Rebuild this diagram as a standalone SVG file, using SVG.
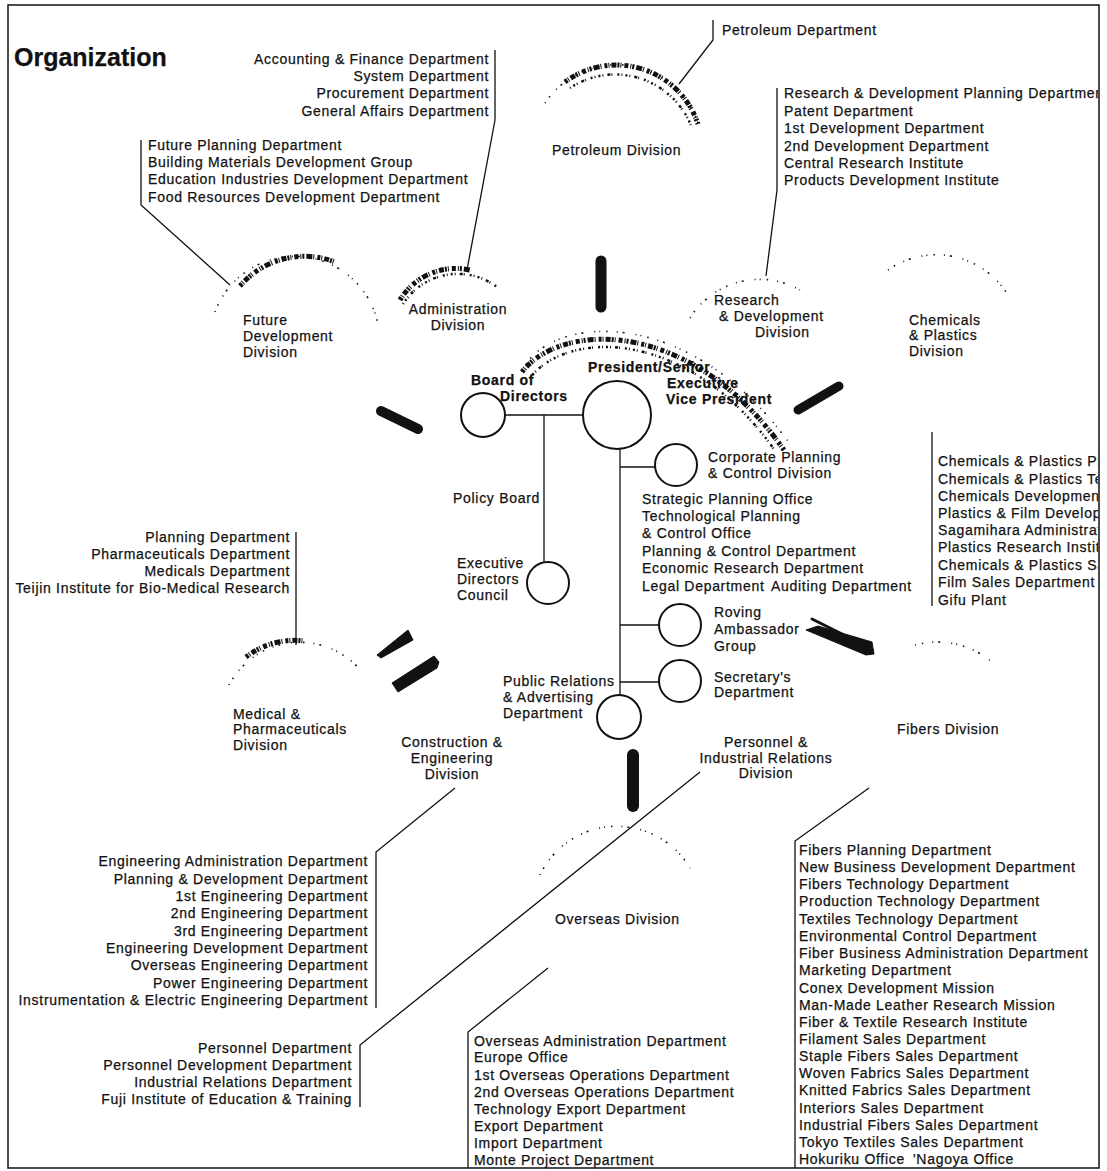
<svg xmlns="http://www.w3.org/2000/svg" width="1107" height="1171" viewBox="0 0 1107 1171">
<defs>
<style>
.t{font-family:"Liberation Sans",Arial,sans-serif;font-size:14px;letter-spacing:0.7px;fill:#111;stroke:#111;stroke-width:0.25}
.b{font-weight:bold}
.e{text-anchor:end}
.m{text-anchor:middle}
.ln{fill:none;stroke:#111;stroke-width:1.3}
.c{fill:none;stroke:#111;stroke-width:2}
.bar{fill:none;stroke:#111;stroke-linecap:round}
.blk{fill:#111;stroke:#111;stroke-width:1;stroke-linejoin:round}
.sd{fill:none;stroke:#111;stroke-width:5;stroke-dasharray:3 1 1 2 5 1 2 1 1 3 4 2 1 1 2 2 6 1 1 3}
.sm{fill:none;stroke:#111;stroke-width:2.5;stroke-dasharray:1 3 2 2 1 4 3 1 1 5 2 2}
.ss{fill:none;stroke:#111;stroke-width:1.6;stroke-dasharray:1 6 1.5 9 1 5 2 11 1 4}
</style>
<clipPath id="frameclip"><rect x="8" y="0" width="1090" height="1171"/></clipPath>
</defs>
<rect width="1107" height="1171" fill="#fff"/>
<rect x="8" y="5" width="1091" height="1163" fill="none" stroke="#111" stroke-width="1.5"/>

<g id="title"><text class="t b" x="14" y="66" style="font-size:25px;letter-spacing:0">Organization</text></g>

<g id="connectors">
<path class="ln" d="M495,50 V120 L467,270"/>
<path class="ln" d="M141,140 V205 L230,285"/>
<path class="ln" d="M713,20 V40 L679,84"/>
<path class="ln" d="M777,88 V190 L766,276"/>
<path class="ln" d="M932,432 V606"/>
<path class="ln" d="M296,532 V645"/>
<path class="ln" d="M505,415 H583"/>
<path class="ln" d="M544,415 V562"/>
<path class="ln" d="M620,449 V695"/>
<path class="ln" d="M620,467 H655"/>
<path class="ln" d="M620,625 H659"/>
<path class="ln" d="M620,682 H659"/>
<path class="ln" d="M455,788 L376,852 V1008"/>
<path class="ln" d="M700,772 L360,1045 V1107"/>
<path class="ln" d="M548,968 L468,1032 V1168"/>
<path class="ln" d="M869,788 L795,841 V1168"/>
</g>

<g id="breaks">
<line class="bar" x1="601" y1="261" x2="601" y2="307" stroke-width="11"/>
<line class="bar" x1="381" y1="411" x2="418" y2="429" stroke-width="10"/>
<line class="bar" x1="798" y1="410" x2="839" y2="386" stroke-width="9"/>
<polygon class="blk" points="377,655 408,630 413,640 381,658"/>
<polygon class="blk" points="392,683 434,656 439,662 437,668 398,692"/>
<line class="bar" x1="812" y1="619" x2="842" y2="634" stroke-width="3"/>
<polygon class="blk" points="806,630 818,626 872,642 874,654 866,655"/>
<line class="bar" x1="633" y1="755" x2="633" y2="806" stroke-width="12"/>
</g>

<g id="administration">
<path class="sd" d="M400,300 A65,65 0 0 1 470,270"/>
<path class="sm" d="M403,304 A65,65 0 0 1 497,287"/>
<text class="t m"><tspan x="458" y="314">Administration</tspan><tspan x="458" y="330">Division</tspan></text>
<text class="t e"><tspan x="489" y="64">Accounting &amp; Finance Department</tspan><tspan x="489" y="81">System Department</tspan><tspan x="489" y="98">Procurement Department</tspan><tspan x="489" y="116">General Affairs Department</tspan></text>
</g>

<g id="future-development">
<path class="ss" d="M215,312 A85,85 0 0 1 378,324"/>
<path class="sd" d="M240,286 A85,85 0 0 1 335,262"/>
<text class="t"><tspan x="243" y="325">Future</tspan><tspan x="243" y="341">Development</tspan><tspan x="243" y="357">Division</tspan></text>
<text class="t"><tspan x="148" y="150">Future Planning Department</tspan><tspan x="148" y="167">Building Materials Development Group</tspan><tspan x="148" y="184">Education Industries Development Department</tspan><tspan x="148" y="202">Food Resources Development Department</tspan></text>
</g>

<g id="petroleum">
<path class="ss" d="M545,103 A86,86 0 0 1 700,130"/>
<path class="sd" d="M565,82 A86,86 0 0 1 698,124"/>
<path class="sm" d="M570,88 A82,82 0 0 1 692,128"/>
<text class="t" x="552" y="155">Petroleum Division</text>
<text class="t" x="722" y="35">Petroleum Department</text>
</g>

<g id="research-development">
<path class="ss" d="M690,318 A82,82 0 0 1 800,290"/>
<text class="t"><tspan x="714" y="305">Research</tspan><tspan x="719" y="321">&amp; Development</tspan><tspan x="755" y="337">Division</tspan></text>
<text class="t" clip-path="url(#frameclip)"><tspan x="784" y="98">Research &amp; Development Planning Departmen</tspan><tspan x="784" y="116">Patent Department</tspan><tspan x="784" y="133">1st Development Department</tspan><tspan x="784" y="151">2nd Development Department</tspan><tspan x="784" y="168">Central Research Institute</tspan><tspan x="784" y="185">Products Development Institute</tspan></text>
</g>

<g id="chemicals-plastics">
<path class="ss" d="M888,270 A84,84 0 0 1 1006,292"/>
<text class="t"><tspan x="909" y="325">Chemicals</tspan><tspan x="909" y="340">&amp; Plastics</tspan><tspan x="909" y="356">Division</tspan></text>
<text class="t" clip-path="url(#frameclip)"><tspan x="938" y="466">Chemicals &amp; Plastics Pl</tspan><tspan x="938" y="484">Chemicals &amp; Plastics Te</tspan><tspan x="938" y="501">Chemicals Development</tspan><tspan x="938" y="518">Plastics &amp; Film Develop</tspan><tspan x="938" y="535">Sagamihara Administrat</tspan><tspan x="938" y="552">Plastics Research Institu</tspan><tspan x="938" y="570">Chemicals &amp; Plastics Sa</tspan><tspan x="938" y="587">Film Sales Department</tspan><tspan x="938" y="605">Gifu Plant</tspan></text>
</g>

<g id="president">
<path class="sd" d="M522,372 C560,322 690,316 784,450"/>
<path class="sm" d="M530,378 C566,330 688,326 776,452"/>
<path class="ss" d="M526,364 C560,314 692,308 790,444"/>
<circle class="c" cx="617" cy="415" r="34"/>
<text class="t b"><tspan x="588" y="372">President/Senior</tspan><tspan x="667" y="388">Executive</tspan><tspan x="666" y="404">Vice President</tspan></text>
</g>

<g id="board">
<circle class="c" cx="483" cy="415" r="22"/>
<text class="t b"><tspan x="471" y="385">Board of</tspan><tspan x="500" y="401">Directors</tspan></text>
<text class="t" x="453" y="503">Policy Board</text>
</g>

<g id="executive-council">
<circle class="c" cx="548" cy="583" r="21"/>
<text class="t"><tspan x="457" y="568">Executive</tspan><tspan x="457" y="584">Directors</tspan><tspan x="457" y="600">Council</tspan></text>
</g>

<g id="corporate-planning">
<circle class="c" cx="676" cy="465" r="21"/>
<text class="t"><tspan x="708" y="462">Corporate Planning</tspan><tspan x="708" y="478">&amp; Control Division</tspan></text>
<text class="t"><tspan x="642" y="504">Strategic Planning Office</tspan><tspan x="642" y="521">Technological Planning</tspan><tspan x="642" y="538">&amp; Control Office</tspan><tspan x="642" y="556">Planning &amp; Control Department</tspan><tspan x="642" y="573">Economic Research Department</tspan><tspan x="642" y="591">Legal Department</tspan><tspan x="771" y="591">Auditing Department</tspan></text>
</g>

<g id="roving">
<circle class="c" cx="680" cy="625" r="21"/>
<text class="t"><tspan x="714" y="617">Roving</tspan><tspan x="714" y="634">Ambassador</tspan><tspan x="714" y="651">Group</tspan></text>
</g>

<g id="secretary">
<circle class="c" cx="680" cy="681" r="21"/>
<text class="t"><tspan x="714" y="682">Secretary's</tspan><tspan x="714" y="697">Department</tspan></text>
</g>

<g id="public-relations">
<circle class="c" cx="619" cy="717" r="22"/>
<text class="t"><tspan x="503" y="686">Public Relations</tspan><tspan x="503" y="702">&amp; Advertising</tspan><tspan x="503" y="718">Department</tspan></text>
</g>

<g id="medical">
<path class="ss" d="M229,685 A80,80 0 0 1 362,672"/>
<path class="sd" d="M246,657 A80,80 0 0 1 305,641"/>
<text class="t"><tspan x="233" y="719">Medical &amp;</tspan><tspan x="233" y="734">Pharmaceuticals</tspan><tspan x="233" y="750">Division</tspan></text>
<text class="t e"><tspan x="290" y="542">Planning Department</tspan><tspan x="290" y="559">Pharmaceuticals Department</tspan><tspan x="290" y="576">Medicals Department</tspan><tspan x="290" y="593">Teijin Institute for Bio-Medical Research</tspan></text>
</g>

<g id="construction">
<text class="t m"><tspan x="452" y="747">Construction &amp;</tspan><tspan x="452" y="763">Engineering</tspan><tspan x="452" y="779">Division</tspan></text>
<text class="t e"><tspan x="368" y="866">Engineering Administration Department</tspan><tspan x="368" y="884">Planning &amp; Development Department</tspan><tspan x="368" y="901">1st Engineering Department</tspan><tspan x="368" y="918">2nd Engineering Department</tspan><tspan x="368" y="936">3rd Engineering Department</tspan><tspan x="368" y="953">Engineering Development Department</tspan><tspan x="368" y="970">Overseas Engineering Department</tspan><tspan x="368" y="988">Power Engineering Department</tspan><tspan x="368" y="1005">Instrumentation  &amp; Electric Engineering Department</tspan></text>
</g>

<g id="personnel">
<text class="t m"><tspan x="766" y="747">Personnel &amp;</tspan><tspan x="766" y="763">Industrial Relations</tspan><tspan x="766" y="778">Division</tspan></text>
<text class="t e"><tspan x="352" y="1053">Personnel Department</tspan><tspan x="352" y="1070">Personnel Development Department</tspan><tspan x="352" y="1087">Industrial Relations Department</tspan><tspan x="352" y="1104">Fuji Institute of Education &amp; Training</tspan></text>
</g>

<g id="overseas">
<path class="ss" d="M540,875 A85,85 0 0 1 690,868"/>
<text class="t" x="555" y="924">Overseas Division</text>
<text class="t"><tspan x="474" y="1046">Overseas Administration Department</tspan><tspan x="474" y="1062">Europe Office</tspan><tspan x="474" y="1080">1st Overseas Operations Department</tspan><tspan x="474" y="1097">2nd Overseas Operations Department</tspan><tspan x="474" y="1114">Technology Export Department</tspan><tspan x="474" y="1131">Export Department</tspan><tspan x="474" y="1148">Import Department</tspan><tspan x="474" y="1165">Monte Project Department</tspan></text>
</g>

<g id="fibers">
<path class="ss" d="M915,645 A85,85 0 0 1 992,662"/>
<text class="t" x="897" y="734">Fibers Division</text>
<text class="t"><tspan x="799" y="855">Fibers Planning Department</tspan><tspan x="799" y="872">New Business Development Department</tspan><tspan x="799" y="889">Fibers Technology Department</tspan><tspan x="799" y="906">Production Technology Department</tspan><tspan x="799" y="924">Textiles Technology Department</tspan><tspan x="799" y="941">Environmental Control Department</tspan><tspan x="799" y="958">Fiber Business Administration Department</tspan><tspan x="799" y="975">Marketing Department</tspan><tspan x="799" y="993">Conex Development Mission</tspan><tspan x="799" y="1010">Man-Made Leather Research Mission</tspan><tspan x="799" y="1027">Fiber &amp; Textile Research Institute</tspan><tspan x="799" y="1044">Filament Sales Department</tspan><tspan x="799" y="1061">Staple Fibers Sales Department</tspan><tspan x="799" y="1078">Woven Fabrics Sales Department</tspan><tspan x="799" y="1095">Knitted Fabrics Sales Department</tspan><tspan x="799" y="1113">Interiors Sales Department</tspan><tspan x="799" y="1130">Industrial Fibers Sales Department</tspan><tspan x="799" y="1147">Tokyo Textiles Sales Department</tspan><tspan x="799" y="1164">Hokuriku Office</tspan><tspan x="913" y="1164">'Nagoya Office</tspan></text>
</g>
</svg>
